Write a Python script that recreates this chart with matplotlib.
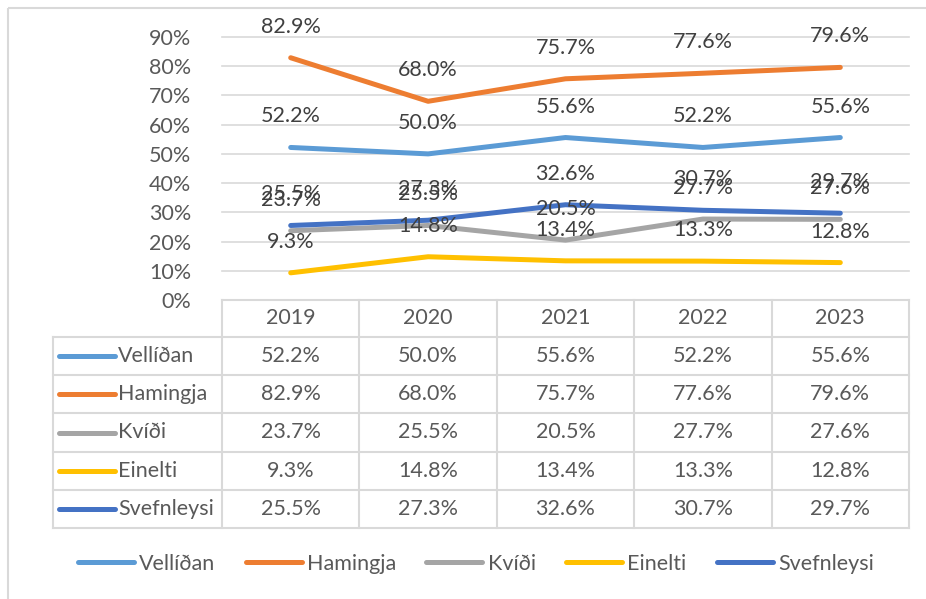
import matplotlib
matplotlib.use("Agg")
import matplotlib.pyplot as plt
from matplotlib.lines import Line2D
from matplotlib.patches import Rectangle
from matplotlib.ticker import PercentFormatter

years = ["2019", "2020", "2021", "2022", "2023"]
series_names = ["Vellíðan", "Hamingja", "Kvíði", "Einelti", "Svefnleysi"]
vellidan = [52.2, 50.0, 55.6, 52.2, 55.6]
hamingja = [82.9, 68.0, 75.7, 77.6, 79.6]
kvidi = [23.7, 25.5, 20.5, 27.7, 27.6]
einelti = [9.3, 14.8, 13.4, 13.3, 12.8]
svefnleysi = [25.5, 27.3, 32.6, 30.7, 29.7]
series_values = [vellidan, hamingja, kvidi, einelti, svefnleysi]
colors = ["#5B9BD5", "#ED7D31", "#A5A5A5", "#FFC000", "#4472C4"]
yticks = [0, 10, 20, 30, 40, 50, 60, 70, 80, 90]

W, H = 926, 599
TXT = "#595959"
GRID = "#D9D9D9"
FS = 15.5
plt.rcParams['font.family'] = ['Lato', 'DejaVu Sans']

fig = plt.figure(figsize=(W / 100, H / 100), dpi=100)

# overlay axes in pixel coordinates for table & border
ov = fig.add_axes([0, 0, 1, 1], zorder=0)
ov.set_xlim(0, W)
ov.set_ylim(H, 0)
ov.axis("off")
ov.add_patch(Rectangle((7.5, 7.5), W + 10, H + 10, fill=False, edgecolor=GRID, lw=1.5))

# main chart axes
ax_left, ax_right, ax_top, ax_bottom = 222, 909, 37, 300
ax = fig.add_axes([ax_left / W, 1 - ax_bottom / H, (ax_right - ax_left) / W, (ax_bottom - ax_top) / H], zorder=2)
ax.patch.set_alpha(0)
n = len(years)
ax.set_xlim(-0.5, n - 0.5)
ax.set_ylim(0, 90)
ax.set_yticks(yticks)
ax.yaxis.set_major_formatter(PercentFormatter(decimals=0))
ax.set_xticks([])
for s in ax.spines.values():
    s.set_visible(False)
ax.tick_params(axis="y", length=0, pad=22, labelsize=FS, labelcolor=TXT)
for t in yticks:
    ax.axhline(t, color=GRID, lw=1.2, zorder=1, clip_on=False)

for name, vals, c in zip(series_names, series_values, colors):
    ax.plot(range(n), vals, color=c, lw=3.6, solid_capstyle="round", solid_joinstyle="round", zorder=3, label=name)
for vals in series_values:
    for i, v in enumerate(vals):
        ax.annotate(f"{v:.1f}%", (i, v), xytext=(0, 31), textcoords="offset pixels",
                    ha="center", va="center", fontsize=FS, color="#404040", zorder=5, annotation_clip=False)

# data table
col_w = (ax_right - ax_left) / n
label_left = 53
row_h = (528 - 337) / len(series_names)
rows_y = [337 + k * row_h for k in range(len(series_names) + 1)]
ov.plot([ax_left, ax_right], [300, 300], color=GRID, lw=1.5)
for y in rows_y:
    ov.plot([label_left, ax_right], [y, y], color=GRID, lw=1.5)
for k in range(n + 1):
    x = ax_left + k * col_w
    ov.plot([x, x], [300, rows_y[-1]], color=GRID, lw=1.5)
ov.plot([label_left, label_left], [337, rows_y[-1]], color=GRID, lw=1.5)
for k, yr in enumerate(years):
    ov.text(ax_left + (k + 0.5) * col_w, (300 + 337) / 2, yr, ha="center", va="center", fontsize=FS, color=TXT)
for r, (name, vals, c) in enumerate(zip(series_names, series_values, colors)):
    yc = rows_y[r] + row_h / 2
    ov.plot([59, 115], [yc, yc], color=c, lw=3.6, solid_capstyle="round")
    ov.text(118, yc, name, ha="left", va="center", fontsize=FS, color=TXT)
    for k, v in enumerate(vals):
        ov.text(ax_left + (k + 0.5) * col_w, yc, f"{v:.1f}%", ha="center", va="center", fontsize=FS, color=TXT)

# legend
handles = [Line2D([], [], color=c, lw=3.6, solid_capstyle="round") for c in colors]
leg = fig.legend(handles, series_names, loc="center", bbox_to_anchor=(476 / W, 1 - 564 / H), ncol=5,
                 frameon=False, fontsize=FS, handlelength=2.6, handletextpad=0.25, columnspacing=1.4)
for t in leg.get_texts():
    t.set_color(TXT)

fig.savefig("out.png", dpi=100)
